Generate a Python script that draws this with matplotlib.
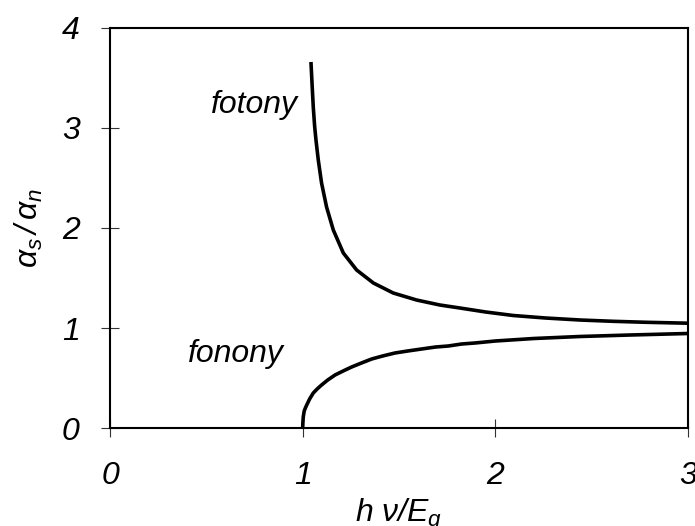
import matplotlib
matplotlib.use("Agg")
import matplotlib.pyplot as plt

plt.rcParams["font.family"] = ["Liberation Sans", "DejaVu Sans"]
plt.rcParams["font.style"] = "italic"
plt.rcParams["mathtext.fontset"] = "custom"
plt.rcParams["mathtext.it"] = "Liberation Sans:italic"
plt.rcParams["mathtext.rm"] = "Liberation Sans:italic"
plt.rcParams["mathtext.default"] = "it"

# photon-assisted absorption ratio (upper branch)
fotony_x = [1.043, 1.049, 1.055, 1.062, 1.069, 1.081, 1.098, 1.124, 1.159,
            1.211, 1.280, 1.367, 1.470, 1.591, 1.712, 1.816, 1.950, 2.093,
            2.260, 2.439, 2.610, 2.785, 3.000]
fotony_y = [3.66, 3.43, 3.21, 3.02, 2.88, 2.68, 2.45, 2.21, 1.98,
            1.75, 1.58, 1.45, 1.35, 1.28, 1.23, 1.20, 1.16, 1.125,
            1.10, 1.08, 1.067, 1.057, 1.048]

# phonon-assisted absorption ratio (lower branch)
fonony_x = [1.000, 1.001, 1.003, 1.008, 1.014, 1.021, 1.036, 1.055, 1.075,
            1.098, 1.130, 1.168, 1.210, 1.254, 1.305, 1.358, 1.415, 1.479,
            1.545, 1.617, 1.690, 1.756, 1.825, 1.894, 2.000, 2.200, 2.439,
            2.700, 3.000]
fonony_y = [0.00, 0.05, 0.11, 0.17, 0.20, 0.23, 0.29, 0.35, 0.39,
            0.43, 0.48, 0.53, 0.57, 0.61, 0.65, 0.69, 0.72, 0.75,
            0.77, 0.79, 0.81, 0.82, 0.84, 0.85, 0.87, 0.895, 0.915,
            0.93, 0.945]

x_ticks = [0, 1, 2, 3]
y_ticks = [0, 1, 2, 3, 4]

fig = plt.figure(figsize=(6.95, 5.26), dpi=100)
ax = fig.add_axes([0.1583, 0.1863, 0.8316, 0.7605])

ax.plot(fotony_x, fotony_y, color="black", lw=2.6,
        solid_capstyle="butt", solid_joinstyle="round")
ax.plot(fonony_x, fonony_y, color="black", lw=2.6,
        solid_capstyle="butt", solid_joinstyle="round")

ax.set_xlim(0, 3)
ax.set_ylim(0, 4)
ax.set_xticks(x_ticks)
ax.set_yticks(y_ticks)
ax.set_xticklabels([str(v) for v in x_ticks])
ax.set_yticklabels([str(v) for v in y_ticks])

for s in ax.spines.values():
    s.set_linewidth(1.5)
    s.set_color("black")

ax.tick_params(axis="both", direction="inout", length=13.5, width=0.8,
               color="#333333", labelsize=23)
ax.tick_params(axis="x", pad=17)
ax.tick_params(axis="y", pad=15)

ax.text(0.522, 3.15, "fotony", fontsize=23, style="italic", ha="left",
        va="baseline")
ax.text(0.405, 0.66, "fonony", fontsize=23, style="italic", ha="left",
        va="baseline")

ax.set_ylabel(r"$\alpha_{s}\,/\,\alpha_{n}$", fontsize=23, labelpad=12)
ax.set_xlabel(r"$h\ \nu/E_{g}$", fontsize=23, labelpad=4)

fig.savefig("out.png", dpi=100)
